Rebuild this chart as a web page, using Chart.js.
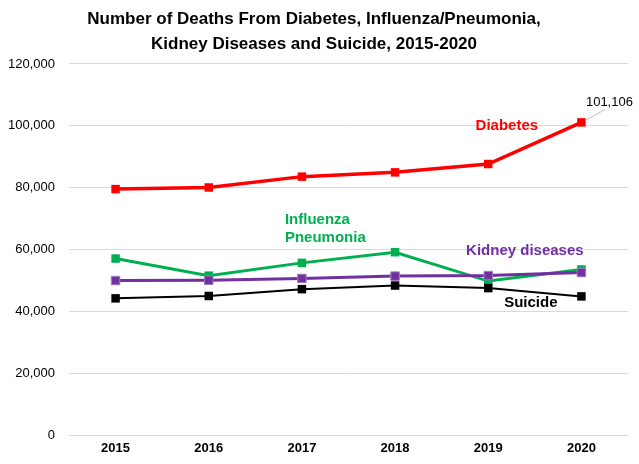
<!DOCTYPE html>
<html>
<head>
<meta charset="utf-8">
<script src="https://cdn.jsdelivr.net/npm/chart.js@4"></script>
<style>
html,body{margin:0;padding:0;background:#fff;}
#wrap{width:639px;height:464px;position:relative;}
</style>
</head>
<body>
<div id="wrap"><canvas id="c" width="639" height="464"></canvas></div>
<script>
const years = ['2015','2016','2017','2018','2019','2020'];
const diabetes = [79535, 80058, 83564, 84946, 87647, 101106];
const influenza = [57062, 51537, 55672, 59120, 49783, 53544];
const kidney = [49959, 50046, 50633, 51386, 51565, 52547];
const suicide = [44193, 44965, 47173, 48344, 47511, 44834];
const yTicks = [0, 20000, 40000, 60000, 80000, 100000, 120000];

const FONT = "'Liberation Sans', Arial, sans-serif";

const labelsPlugin = {
  id: 'seriesLabels',
  afterDatasetsDraw(chart) {
    const ctx = chart.ctx;
    const xs = chart.scales.x, ys = chart.scales.y;
    ctx.save();
    ctx.textAlign = 'center';
    ctx.textBaseline = 'middle';
    const px = xs.getPixelForValue(5), py = ys.getPixelForValue(diabetes[5]);
    ctx.strokeStyle = '#BFBFBF';
    ctx.lineWidth = 1;
    ctx.beginPath();
    ctx.moveTo(px + 4, py - 2);
    ctx.lineTo(px + 24, py - 13);
    ctx.stroke();
    ctx.fillStyle = '#000';
    ctx.font = '13px ' + FONT;
    ctx.fillText(diabetes[5].toLocaleString('en-US'), px + 28, py - 20);

    ctx.font = 'bold 15px ' + FONT;
    const mid45 = (xs.getPixelForValue(4) + xs.getPixelForValue(5)) / 2;
    ctx.fillStyle = '#FF0000';
    ctx.fillText('Diabetes', mid45 - 28, ys.getPixelForValue(100000));
    ctx.fillStyle = '#00B050';
    ctx.textAlign = 'left';
    ctx.fillText('Influenza', xs.getPixelForValue(2) - 17, ys.getPixelForValue(69500));
    ctx.fillText('Pneumonia', xs.getPixelForValue(2) - 17, ys.getPixelForValue(63800));
    ctx.textAlign = 'center';
    ctx.fillStyle = '#7030A0';
    ctx.fillText('Kidney diseases', mid45 - 10, ys.getPixelForValue(59600));
    ctx.fillStyle = '#000';
    ctx.fillText('Suicide', mid45 - 4, ys.getPixelForValue(42800));
    ctx.restore();
  }
};

new Chart(document.getElementById('c'), {
  type: 'line',
  data: {
    labels: years,
    datasets: [
      { label: 'Suicide', data: suicide, borderColor: '#000000', backgroundColor: '#000000',
        borderWidth: 2, pointStyle: 'rect', pointRadius: 6, pointBorderWidth: 0, pointBorderColor: '#000' },
      { label: 'Kidney diseases', data: kidney, borderColor: '#7030A0', backgroundColor: '#7030A0',
        borderWidth: 3, pointStyle: 'rect', pointRadius: 6, pointBorderWidth: 1, pointBorderColor: '#A07CC0' },
      { label: 'Influenza/Pneumonia', data: influenza, borderColor: '#00B050', backgroundColor: '#00B050',
        borderWidth: 3, pointStyle: 'rect', pointRadius: 6, pointBorderWidth: 0, pointBorderColor: '#00B050' },
      { label: 'Diabetes', data: diabetes, borderColor: '#FF0000', backgroundColor: '#FF0000',
        borderWidth: 3.5, pointStyle: 'rect', pointRadius: 6, pointBorderWidth: 0, pointBorderColor: '#FF0000' }
    ]
  },
  options: {
    responsive: false,
    animation: false,
    devicePixelRatio: 1,
    layout: { padding: { left: 0, right: 11, top: 0, bottom: 0 } },
    plugins: {
      legend: { display: false },
      tooltip: { enabled: false },
      title: {
        display: true,
        text: ['Number of Deaths From Diabetes, Influenza/Pneumonia,', 'Kidney Diseases and Suicide, 2015-2020'],
        color: '#000',
        font: { family: FONT, size: 17, weight: 'bold', lineHeight: 1.47 },
        padding: { top: 7, bottom: 7 }
      }
    },
    scales: {
      x: {
        offset: true,
        grid: { display: false, drawTicks: false },
        border: { display: false },
        ticks: { color: '#000', font: { family: FONT, size: 13, weight: 'bold' }, padding: 6, maxRotation: 0 },
        afterFit(scale) { scale.height = 29; }
      },
      y: {
        min: 0, max: 120000,
        afterBuildTicks(scale) { scale.ticks = yTicks.map(v => ({ value: v })); },
        grid: { color: '#D9D9D9', drawTicks: false, lineWidth: 1 },
        border: { display: false },
        ticks: { color: '#000', font: { family: FONT, size: 13 }, padding: 14,
          callback: v => v.toLocaleString('en-US') },
        afterFit(scale) { scale.width = 69; }
      }
    }
  },
  plugins: [labelsPlugin]
});
</script>
</body>
</html>
